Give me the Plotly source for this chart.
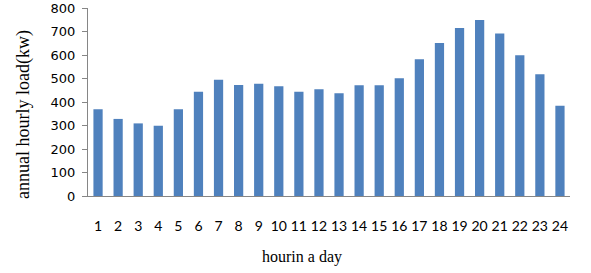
import plotly.graph_objects as go

hours = [str(h) for h in range(1, 25)]
load_kw = [369, 328, 309, 299, 369, 444, 495, 472, 478, 467, 444, 454,
           437, 471, 471, 501, 582, 651, 715, 749, 691, 599, 518, 384]
y_ticks = [0, 100, 200, 300, 400, 500, 600, 700, 800]

L, R, T, B = 88, 21, 8, 77
W, H = 591, 273
pw, ph = W - L - R, H - T - B

fig = go.Figure(go.Bar(x=hours, y=load_kw, marker=dict(color="#4F81BD", line=dict(width=0)),
                       width=0.46))

fig.update_layout(
    width=W, height=H,
    margin=dict(l=L, r=R, t=T, b=B, pad=0, autoexpand=False),
    paper_bgcolor="white", plot_bgcolor="white",
    showlegend=False,
    xaxis=dict(type="category", showline=True, linecolor="#868686", linewidth=1,
               ticks="", showgrid=False, automargin=False,
               tickfont=dict(family="Lato", size=14, color="#000"),
               ticklabelstandoff=17),
    yaxis=dict(range=[0, 800], tickvals=y_ticks, showline=True, linecolor="#868686",
               linewidth=1, ticks="outside", ticklen=5, tickcolor="#868686",
               showgrid=False, zeroline=False, automargin=False,
               ticklabelstandoff=4,
               tickfont=dict(family="DejaVu Sans", size=13, color="#000")),
    annotations=[
        dict(text="annual hourly load(kw)", xref="paper", yref="paper",
             x=(23 - L) / pw, y=(T + ph - 115) / ph,
             textangle=-90, showarrow=False, xanchor="center", yanchor="middle",
             font=dict(family="Liberation Serif", size=18, color="#000")),
        dict(text="hourin a day", xref="paper", yref="paper",
             x=(302 - L) / pw, y=-(257 - T - ph) / ph,
             showarrow=False, xanchor="center", yanchor="middle",
             font=dict(family="Liberation Serif", size=16, color="#000")),
    ],
)

fig.write_html("out.html", config={"displayModeBar": False},
               post_script="document.body.style.margin='0';")
